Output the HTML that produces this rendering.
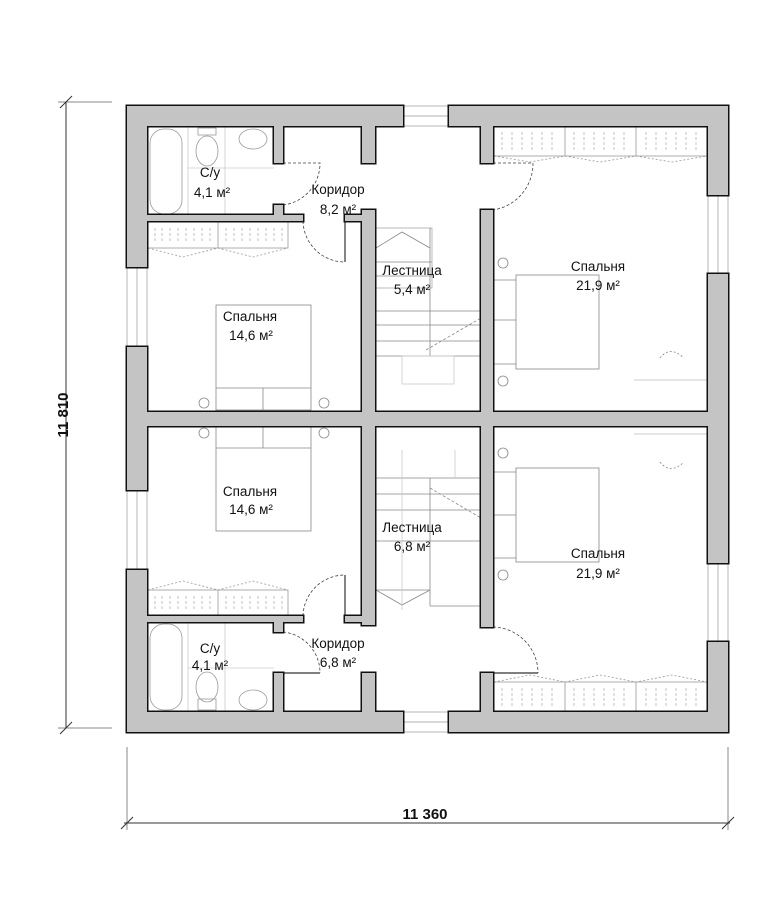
<!DOCTYPE html>
<html><head><meta charset="utf-8"><style>
html,body{margin:0;padding:0;background:#fff;width:784px;height:900px;overflow:hidden}
svg{display:block}
text{font-family:"Liberation Sans",sans-serif;font-size:13.5px;fill:#111;text-anchor:middle}
</style></head><body>
<svg width="784" height="900" viewBox="0 0 784 900" xmlns="http://www.w3.org/2000/svg">
<defs>
<g id="walls">
<rect x="127" y="106" width="276" height="20"/>
<rect x="449" y="106" width="279" height="20"/>
<rect x="127" y="712" width="276" height="20"/>
<rect x="449" y="712" width="279" height="20"/>
<rect x="127" y="106" width="20" height="161"/>
<rect x="127" y="347" width="20" height="143"/>
<rect x="127" y="570" width="20" height="162"/>
<rect x="708" y="106" width="20" height="89"/>
<rect x="708" y="274" width="20" height="289"/>
<rect x="708" y="642" width="20" height="90"/>
<rect x="362" y="106" width="13" height="57"/>
<rect x="362" y="210" width="13" height="415"/>
<rect x="362" y="673" width="13" height="59"/>
<rect x="481" y="106" width="12" height="57"/>
<rect x="481" y="210" width="12" height="417"/>
<rect x="481" y="673" width="12" height="59"/>
<rect x="127" y="412" width="601" height="14"/>
<rect x="127" y="215" width="176" height="6"/>
<rect x="274" y="106" width="9" height="57"/>
<rect x="274" y="205" width="9" height="16"/>
<rect x="345" y="215" width="30" height="6"/>
<rect x="127" y="616" width="176" height="6"/>
<rect x="274" y="616" width="9" height="16"/>
<rect x="274" y="673" width="9" height="59"/>
<rect x="345" y="616" width="30" height="6"/>
</g>
</defs>
<!-- dimension lines -->
<g stroke="#333" stroke-width="1" fill="none">
<line x1="66" y1="102" x2="66" y2="728"/>
<line x1="58" y1="102" x2="112" y2="102" stroke="#888"/>
<line x1="58" y1="728" x2="112" y2="728" stroke="#888"/>
<line x1="60" y1="108" x2="72" y2="96"/>
<line x1="60" y1="734" x2="72" y2="722"/>
<line x1="124" y1="823" x2="730" y2="823"/>
<line x1="127" y1="747" x2="127" y2="830" stroke="#888"/>
<line x1="728" y1="747" x2="728" y2="830" stroke="#888"/>
<line x1="121" y1="829" x2="133" y2="817"/>
<line x1="722" y1="829" x2="734" y2="817"/>
</g>
<text x="425" y="819" style="font-size:15px;font-weight:bold">11 360</text>
<text x="0" y="0" transform="translate(68,415) rotate(-90)" style="font-size:15px;font-weight:bold">11 810</text>

<!-- windows -->
<g fill="#fff" stroke="#999" stroke-width="0.7">
<rect x="403" y="106" width="46" height="20"/><line x1="403" y1="116" x2="449" y2="116"/>
<rect x="403" y="712" width="46" height="20"/><line x1="403" y1="722" x2="449" y2="722"/>
<rect x="127" y="267" width="20" height="80"/><line x1="137" y1="267" x2="137" y2="347"/>
<rect x="127" y="490" width="20" height="80"/><line x1="137" y1="490" x2="137" y2="570"/>
<rect x="708" y="195" width="20" height="79"/><line x1="718" y1="195" x2="718" y2="274"/>
<rect x="708" y="563" width="20" height="79"/><line x1="718" y1="563" x2="718" y2="642"/>
</g>

<!-- furniture (light) -->
<g fill="none" stroke="#999" stroke-width="0.8">
<rect x="150" y="129" width="32" height="85" rx="14"/>
<ellipse cx="207" cy="151" rx="11" ry="15"/>
<rect x="198" y="128" width="18" height="7"/>
<ellipse cx="253" cy="139" rx="14" ry="10"/>
<line x1="188" y1="127" x2="188" y2="214" stroke="#ccc"/>
<line x1="225" y1="127" x2="225" y2="214" stroke="#ccc"/>
<line x1="188" y1="168" x2="274" y2="168" stroke="#ccc"/>
<rect x="150" y="624" width="32" height="86" rx="14"/>
<ellipse cx="207" cy="687" rx="11" ry="15"/>
<rect x="198" y="699" width="18" height="11"/>
<ellipse cx="253" cy="700" rx="14" ry="10"/>
<line x1="188" y1="623" x2="188" y2="711" stroke="#ccc"/>
<line x1="225" y1="623" x2="225" y2="711" stroke="#ccc"/>
<line x1="188" y1="668" x2="274" y2="668" stroke="#ccc"/>
<rect x="148" y="222" width="140" height="26"/><line x1="218" y1="222" x2="218" y2="248"/>
<path d="M148 248 L183 257 L218 248 L253 257 L288 248" stroke-dasharray="2 2"/>
<rect x="148" y="590" width="140" height="26"/><line x1="218" y1="590" x2="218" y2="616"/>
<path d="M148 590 L183 581 L218 590 L253 581 L288 590" stroke-dasharray="2 2"/>
<rect x="494" y="127" width="213" height="29"/><line x1="565" y1="127" x2="565" y2="156"/><line x1="636" y1="127" x2="636" y2="156"/>
<path d="M494 156 L530 162 L565 156 L600 162 L636 156 L672 162 L707 156" stroke-dasharray="2 2"/>
<rect x="494" y="682" width="213" height="29"/><line x1="565" y1="682" x2="565" y2="711"/><line x1="636" y1="682" x2="636" y2="711"/>
<path d="M494 682 L530 675 L565 682 L600 675 L636 682 L672 675 L707 682" stroke-dasharray="2 2"/>
</g>
<g stroke="#aaa" stroke-width="0.7" stroke-dasharray="3 2">
<path d="M155 228v14M162 228v14M170 228v14M178 228v14M186 228v14M194 228v14M202 228v14M210 228v14M226 228v14M234 228v14M242 228v14M250 228v14M258 228v14M266 228v14M274 228v14M282 228v14"/>
<path d="M155 596v14M162 596v14M170 596v14M178 596v14M186 596v14M194 596v14M202 596v14M210 596v14M226 596v14M234 596v14M242 596v14M250 596v14M258 596v14M266 596v14M274 596v14M282 596v14"/>
<path d="M502 132v18M512 132v18M522 132v18M532 132v18M542 132v18M552 132v18M574 132v18M584 132v18M594 132v18M604 132v18M614 132v18M624 132v18M646 132v18M656 132v18M666 132v18M676 132v18M686 132v18M696 132v18"/>
<path d="M502 688v18M512 688v18M522 688v18M532 688v18M542 688v18M552 688v18M574 688v18M584 688v18M594 688v18M604 688v18M614 688v18M624 688v18M646 688v18M656 688v18M666 688v18M676 688v18M686 688v18M696 688v18"/>
</g>
<g fill="none" stroke="#888" stroke-width="0.8">
<rect x="216" y="305" width="95" height="105"/><line x1="216" y1="388" x2="311" y2="388"/><line x1="263" y1="388" x2="263" y2="410"/>
<circle cx="204" cy="403" r="5"/><circle cx="324" cy="403" r="5"/>
<rect x="216" y="426" width="95" height="105"/><line x1="216" y1="448" x2="311" y2="448"/><line x1="263" y1="426" x2="263" y2="448"/>
<circle cx="204" cy="433" r="5"/><circle cx="324" cy="433" r="5"/>
<rect x="516" y="275" width="83" height="94"/><line x1="494" y1="280" x2="516" y2="280"/><line x1="494" y1="320" x2="516" y2="320"/><line x1="494" y1="364" x2="516" y2="364"/>
<circle cx="503" cy="263" r="5"/><circle cx="503" cy="381" r="5"/>
<rect x="516" y="468" width="83" height="94"/><line x1="494" y1="472" x2="516" y2="472"/><line x1="494" y1="515" x2="516" y2="515"/><line x1="494" y1="558" x2="516" y2="558"/>
<circle cx="503" cy="453" r="5"/><circle cx="503" cy="575" r="5"/>
<line x1="634" y1="380" x2="708" y2="380" stroke="#bbb"/>
<line x1="634" y1="434" x2="708" y2="434" stroke="#bbb"/>
<path d="M660 358 Q670 345 684 358" stroke-dasharray="2 2"/>
<path d="M660 462 Q670 475 684 462" stroke-dasharray="2 2"/>
<rect x="376" y="228" width="56" height="60" stroke="#aaa"/>
<path d="M376 248 L402 232 L430 248"/>
<line x1="376" y1="262" x2="432" y2="262"/><line x1="376" y1="276" x2="432" y2="276"/>
<line x1="376" y1="311" x2="481" y2="311"/><line x1="376" y1="325" x2="481" y2="325"/>
<line x1="376" y1="341" x2="481" y2="341"/><line x1="376" y1="356" x2="481" y2="356"/>
<line x1="430" y1="228" x2="430" y2="356"/>
<line x1="426" y1="350" x2="481" y2="318" stroke-dasharray="3 2"/>
<rect x="402" y="356" width="52" height="28" stroke="#ccc"/>
<line x1="376" y1="478" x2="481" y2="478"/><line x1="376" y1="494" x2="481" y2="494"/>
<line x1="376" y1="510" x2="481" y2="510"/><line x1="376" y1="541" x2="481" y2="541"/>
<line x1="376" y1="590" x2="430" y2="590"/>
<line x1="430" y1="478" x2="430" y2="606"/><line x1="430" y1="606" x2="481" y2="606"/>
<path d="M376 590 L402 605 L430 590"/>
<line x1="430" y1="488" x2="481" y2="518" stroke-dasharray="3 2"/>
<line x1="402" y1="450" x2="402" y2="610" stroke="#ccc"/><line x1="455" y1="450" x2="455" y2="478" stroke="#ccc"/>
</g>

<!-- doors -->
<g fill="none" stroke="#444" stroke-width="0.8" stroke-dasharray="3 2">
<path d="M283 163 L320 163 A42 42 0 0 1 283 205"/>
<path d="M303 221 A42 42 0 0 0 345 262"/>
<path d="M493 163 L533 163 A47 47 0 0 1 493 210"/>
<path d="M283 632 A41 41 0 0 1 320 673"/>
<path d="M303 616 A42 42 0 0 1 345 575"/>
<path d="M493 627 A46 46 0 0 1 538 673"/>
</g>
<g stroke="#333" stroke-width="1.2">
<line x1="345" y1="221" x2="345" y2="262"/>
<line x1="345" y1="575" x2="345" y2="616"/>
<line x1="283" y1="673" x2="320" y2="673"/>
<line x1="493" y1="673" x2="538" y2="673"/>
</g>

<!-- walls: stroke pass then fill pass hides internal seams -->
<use href="#walls" fill="#111" stroke="#111" stroke-width="3"/>
<use href="#walls" fill="#c4c4c4" stroke="none"/>

<!-- labels -->
<text x="210" y="177">С/у</text><text x="212" y="197">4,1 м²</text>
<text x="338" y="194">Коридор</text><text x="338" y="214">8,2 м²</text>
<text x="412" y="275">Лестница</text><text x="412" y="294">5,4 м²</text>
<text x="250" y="321">Спальня</text><text x="251" y="340">14,6 м²</text>
<text x="598" y="271">Спальня</text><text x="598" y="290">21,9 м²</text>
<text x="250" y="496">Спальня</text><text x="251" y="514">14,6 м²</text>
<text x="412" y="532">Лестница</text><text x="412" y="551">6,8 м²</text>
<text x="598" y="558">Спальня</text><text x="598" y="578">21,9 м²</text>
<text x="210" y="653">С/у</text><text x="210" y="670">4,1 м²</text>
<text x="338" y="648">Коридор</text><text x="338" y="667">6,8 м²</text>
</svg>
</body></html>
